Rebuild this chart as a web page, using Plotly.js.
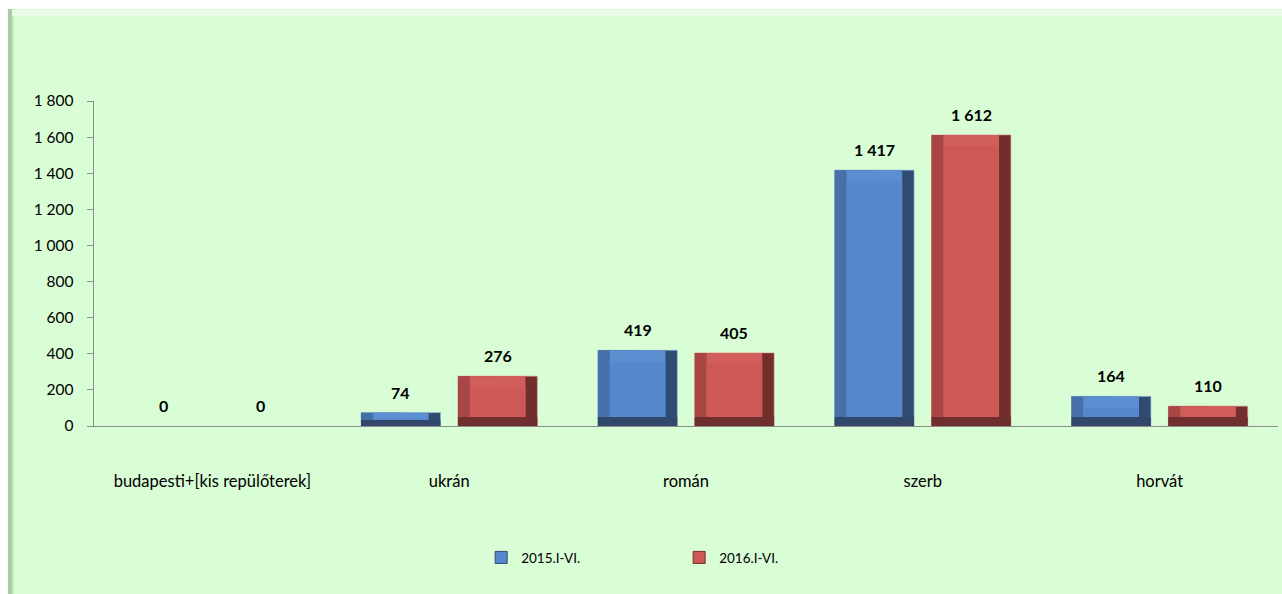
<!DOCTYPE html>
<html>
<head>
<meta charset="utf-8">
<script src="https://cdn.plot.ly/plotly-3.0.1.min.js"></script>
<style>
html,body{margin:0;padding:0;background:#ffffff;}
#chart{width:1282px;height:594px;}
</style>
</head>
<body>
<div id="chart"></div>
<script>
// ---- data ----
const categories = ["budapesti+[kis repülőterek]", "ukrán", "román", "szerb", "horvát"];
const seriesNames = ["2015.I-VI.", "2016.I-VI."];
const values2015 = [0, 74, 419, 1417, 164];
const values2016 = [0, 276, 405, 1612, 110];
const yTickVals = [0, 200, 400, 600, 800, 1000, 1200, 1400, 1600, 1800];

// ---- styling ----
const FONT = "Lato, 'Open Sans', sans-serif";
const palettes = [
  {face:"#5688cd", left:"#4670a7", right:"#2f4b70", bottom:"#32486a", top:"#5c8ed2", edge:"#7ea6dc"},
  {face:"#cd5855", left:"#a84545", right:"#722d2d", bottom:"#6f2f2f", top:"#d25e5b", edge:"#e08a88"}
];
const barW = 0.335;          // bar width in category units
const offsets = [-0.372, 0.037];
const sideB = 0.05;          // side bevel (category units)
const botB = 50, topB = 60;  // bevel heights (value units)

function fmt(v){ return String(v).replace(/\B(?=(\d{3})+(?!\d))/g, "\u00a0"); }

const traces = [];
const annotations = [];
[values2015, values2016].forEach((vals, s) => {
  const p = palettes[s];
  const o = offsets[s];
  const bb = vals.map(v => Math.min(botB, v * 0.45));
  const tb = vals.map(v => Math.min(topB, v * 0.45));
  const common = {type:"bar", x:categories, hoverinfo:"skip", showlegend:false};
  // full bar in right-side colour
  traces.push(Object.assign({}, common, {y:vals, offset:o, width:barW,
    marker:{color:p.right, line:{color:p.edge, width:vals.map(v => v > 0 ? 0.6 : 0)}}}));
  // left side
  traces.push(Object.assign({}, common, {y:vals, offset:o, width:barW/2,
    marker:{color:p.left, line:{width:0}}}));
  // top strip
  traces.push(Object.assign({}, common, {y:vals, offset:o + sideB, width:barW - 2*sideB,
    marker:{color:p.top, line:{width:0}}}));
  // bottom band
  traces.push(Object.assign({}, common, {y:bb, offset:o, width:barW,
    marker:{color:p.bottom, line:{width:0}}}));
  // face
  traces.push(Object.assign({}, common, {y:vals.map((v,i)=>Math.max(0, v - bb[i] - tb[i])), base:bb,
    offset:o + sideB, width:barW - 2*sideB,
    marker:{color:p.face, line:{width:0}}}));
  // legend entry
  traces.push({type:"bar", x:[categories[0]], y:[null], name:seriesNames[s], showlegend:true,
    marker:{color:p.face, line:{color:p.right, width:1}}, hoverinfo:"skip", offset:o, width:barW});
  vals.forEach((v, i) => {
    annotations.push({x: i + o + barW/2, y: v, xref:"x", yref:"y", text: fmt(v), showarrow:false,
      yanchor:"bottom", yshift: 9, font:{family:FONT, size:16, color:"#000", weight:"bold"}});
  });
});

const layout = {
  width:1282, height:594,
  margin:{l:94, r:4, t:101, b:168},
  paper_bgcolor:"#ffffff",
  plot_bgcolor:"rgba(0,0,0,0)",
  barmode:"overlay",
  separators:", ",
  font:{family:FONT, size:15, color:"#000"},
  showlegend:true,
  legend:{orientation:"h", x:0.327, xanchor:"left", y:-0.405, yanchor:"middle",
    font:{family:FONT, size:13.5, color:"#000"}, entrywidth:153, entrywidthmode:"pixels",
    itemwidth:30, bgcolor:"rgba(0,0,0,0)", traceorder:"normal"},
  xaxis:{type:"category", showgrid:false, zeroline:false, showline:true, linecolor:"#8c8c8c", linewidth:1.3,
    ticks:"", ticklabelstandoff:40, tickfont:{family:FONT, size:16.5, color:"#000"}, fixedrange:true,
    range:[-0.5, 4.5]},
  yaxis:{range:[0,1800], tickvals:yTickVals, ticktext:yTickVals.map(fmt), showgrid:false, zeroline:false,
    showline:true, linecolor:"#8c8c8c", linewidth:1.3, ticks:"outside", ticklen:6, tickcolor:"#8c8c8c",
    tickfont:{family:FONT, size:15.5, color:"#000"}, ticklabelstandoff:10, fixedrange:true},
  annotations: annotations,
  shapes:[
    {type:"rect", xref:"paper", yref:"paper", x0:-0.0727, x1:1.01, y0:-0.65, y1:1.283,
      fillcolor:"#d9fdd5", line:{width:0}, layer:"below"},
    {type:"rect", xref:"paper", yref:"paper", x0:-0.0727, x1:-0.0693, y0:-0.65, y1:1.283,
      fillcolor:"#a7cfa2", line:{width:0}, layer:"below"},
    {type:"rect", xref:"paper", yref:"paper", x0:-0.0693, x1:-0.0676, y0:-0.65, y1:1.283,
      fillcolor:"#c3e8be", line:{width:0}, layer:"below"},
    {type:"rect", xref:"paper", yref:"paper", x0:-0.0693, x1:1.01, y0:1.262, y1:1.28,
      fillcolor:"#e9fde6", line:{width:0}, layer:"below"}
  ]
};

Plotly.newPlot("chart", traces, layout, {displayModeBar:false, staticPlot:true});
</script>
</body>
</html>
